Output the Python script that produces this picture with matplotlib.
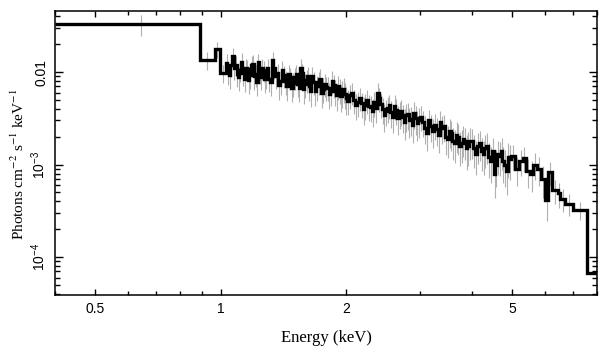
import matplotlib
matplotlib.use('Agg')
import matplotlib.pyplot as plt
import numpy as np
from matplotlib.ticker import FixedLocator, FixedFormatter, NullFormatter

# ---------------- data ----------------
bin_edges_kev = [0.40, 0.89, 0.967, 0.994, 1.028,
    1.037, 1.046, 1.055, 1.064, 1.073, 1.082, 1.091, 1.100, 1.109, 1.118, 1.127, 1.136, 1.145, 1.154, 1.163,
    1.172, 1.181, 1.190, 1.199, 1.208, 1.217, 1.226, 1.235, 1.244, 1.253, 1.262, 1.271, 1.280, 1.290, 1.300,
    1.3125, 1.325, 1.3375, 1.350, 1.3625, 1.375, 1.3875, 1.400, 1.4125, 1.425, 1.4375, 1.450, 1.4625, 1.475,
    1.4875, 1.500, 1.5125, 1.525, 1.5375, 1.550, 1.5625, 1.575, 1.5875, 1.600, 1.6125, 1.625, 1.6375, 1.650,
    1.665, 1.680, 1.695, 1.710, 1.725, 1.740, 1.755, 1.770, 1.785, 1.800, 1.815, 1.830, 1.845, 1.860, 1.875,
    1.890, 1.905, 1.920, 1.935, 1.950, 1.965, 1.980, 1.995, 2.010,
    2.0325, 2.055, 2.0775, 2.100, 2.1225, 2.145, 2.1675, 2.190, 2.2125, 2.235, 2.2575, 2.280, 2.3025, 2.325,
    2.3475, 2.370, 2.3925, 2.415, 2.4375, 2.460, 2.4825, 2.505, 2.5275, 2.550, 2.575, 2.600, 2.625, 2.650,
    2.675, 2.700, 2.725, 2.750, 2.775, 2.800, 2.825, 2.850, 2.875, 2.900, 2.925, 2.950, 2.975, 3.000,
    3.035, 3.07, 3.105, 3.14, 3.175, 3.21, 3.245, 3.28, 3.315, 3.35, 3.385, 3.42, 3.455, 3.49, 3.525, 3.56,
    3.595, 3.63, 3.665, 3.70, 3.735, 3.77, 3.805, 3.84, 3.875, 3.91, 3.945, 3.98,
    4.025, 4.07, 4.115, 4.16, 4.205, 4.25, 4.295, 4.34, 4.385, 4.43, 4.475, 4.52, 4.565, 4.61, 4.655, 4.70,
    4.745, 4.79, 4.835, 4.88, 4.925, 4.97,
    5.08, 5.19, 5.30, 5.41, 5.52, 5.63, 5.74, 5.86, 6.01,
    6.10, 6.25, 6.44, 6.53, 6.72, 7.01, 7.58, 8.0]

flux = [0.033, 0.0135, 0.0177, 0.0098,
    # 1.03 - 1.30 keV
    0.0125, 0.0100, 0.0092, 0.0118, 0.0148, 0.0110, 0.0120, 0.0095, 0.0088, 0.0105,
    0.0130, 0.0098, 0.0085, 0.0112, 0.0108, 0.0082, 0.0092, 0.0118, 0.0122, 0.0090,
    0.0095, 0.0079, 0.0128, 0.0102, 0.0088, 0.0112, 0.0105, 0.0084, 0.0092, 0.0110,
    # 1.30 - 1.65 keV
    0.0085, 0.0078, 0.0135, 0.0112, 0.0090, 0.0098, 0.0072, 0.0080, 0.0105, 0.0092,
    0.0080, 0.0070, 0.0095, 0.0088, 0.0068, 0.0076, 0.0088, 0.0095, 0.0075, 0.0068,
    0.0112, 0.0098, 0.0066, 0.0074, 0.0082, 0.0090, 0.0070, 0.0062,
    # 1.65 - 2.01 keV
    0.0090, 0.0078, 0.0063, 0.0070, 0.0078, 0.0085, 0.0060, 0.0066, 0.0075, 0.0069,
    0.0068, 0.0058, 0.0063, 0.0080, 0.0072, 0.0062, 0.0056, 0.0070, 0.0065, 0.0055,
    0.0060, 0.0066, 0.0058, 0.0052,
    # 2.01 - 3.00 keV
    0.0049, 0.0056, 0.0060, 0.0050, 0.0044, 0.0047, 0.0053, 0.0046, 0.0040, 0.0044,
    0.0050, 0.0043, 0.0042, 0.0038, 0.0047, 0.0041, 0.0060, 0.0052, 0.0045, 0.0040,
    0.0034, 0.0038, 0.0041, 0.0044, 0.0037, 0.0033, 0.0043, 0.0039, 0.0032, 0.0036,
    0.0038, 0.0033, 0.0029, 0.0034, 0.0035, 0.0030, 0.0031, 0.0027, 0.0036, 0.0032,
    0.0028, 0.0030,
    # 3.00 - 3.98 keV
    0.0033, 0.0029, 0.0025, 0.0022, 0.0030, 0.0026, 0.0023, 0.0027, 0.0024, 0.0021,
    0.0029, 0.0025, 0.0026, 0.0020, 0.0019, 0.0023, 0.0022, 0.0018, 0.0017, 0.0021,
    0.0020, 0.0016, 0.0017, 0.0019, 0.0018, 0.0015, 0.0016, 0.0018,
    # 3.98 - 4.97 keV
    0.0018, 0.0015, 0.0013, 0.0016, 0.0017, 0.0014, 0.0013, 0.0015, 0.0016, 0.0012,
    0.0011, 0.0014, 0.00080, 0.0010, 0.0013, 0.00125, 0.00140, 0.00110, 0.00100, 0.00085,
    0.00120, 0.00115,
    # 4.97 - 8 keV
    0.00125, 0.00090, 0.00110, 0.00118, 0.00085, 0.00080, 0.00100, 0.00090, 0.00070,
    0.00041, 0.00083, 0.00053, 0.00049, 0.00043, 0.00038, 0.00032, 0.000067]

flux_err_rel = [0.26, 0.22, 0.20, 0.22,
    0.24, 0.27, 0.28, 0.25, 0.22, 0.26, 0.25, 0.28, 0.29, 0.26,
    0.23, 0.27, 0.29, 0.25, 0.26, 0.29, 0.28, 0.25, 0.24, 0.28,
    0.27, 0.30, 0.24, 0.27, 0.28, 0.25, 0.26, 0.29, 0.28, 0.26,
    0.28, 0.30, 0.21, 0.24, 0.27, 0.26, 0.30, 0.29, 0.25, 0.27,
    0.29, 0.31, 0.26, 0.27, 0.31, 0.29, 0.27, 0.26, 0.29, 0.31,
    0.23, 0.25, 0.31, 0.29, 0.28, 0.26, 0.30, 0.32,
    0.27, 0.28, 0.31, 0.30, 0.28, 0.27, 0.32, 0.30, 0.28, 0.29,
    0.29, 0.32, 0.31, 0.27, 0.28, 0.31, 0.33, 0.29, 0.30, 0.33,
    0.32, 0.30, 0.32, 0.34,
    0.30, 0.28, 0.27, 0.29, 0.31, 0.30, 0.28, 0.30, 0.33, 0.31,
    0.29, 0.31, 0.32, 0.33, 0.30, 0.32, 0.26, 0.28, 0.30, 0.32,
    0.34, 0.32, 0.31, 0.30, 0.32, 0.34, 0.30, 0.32, 0.35, 0.33,
    0.32, 0.34, 0.36, 0.33, 0.33, 0.35, 0.34, 0.37, 0.32, 0.34,
    0.36, 0.35,
    0.30, 0.32, 0.34, 0.36, 0.31, 0.33, 0.35, 0.32, 0.34, 0.36,
    0.31, 0.33, 0.33, 0.37, 0.38, 0.35, 0.36, 0.38, 0.39, 0.36,
    0.37, 0.40, 0.39, 0.37, 0.38, 0.41, 0.40, 0.38,
    0.36, 0.38, 0.40, 0.37, 0.36, 0.39, 0.40, 0.38, 0.37, 0.41,
    0.42, 0.39, 0.45, 0.43, 0.40, 0.40, 0.38, 0.42, 0.43, 0.45,
    0.41, 0.41,
    0.30, 0.35, 0.32, 0.30, 0.35, 0.36, 0.32, 0.34, 0.38,
    0.40, 0.28, 0.30, 0.30, 0.28, 0.26, 0.22, 0.0]

x_major = [0.5, 1, 2, 5]
x_major_labels = ['0.5', '1', '2', '5']
x_minor = [0.4, 0.6, 0.7, 0.8, 0.9, 3, 4, 6, 7, 8]
y_major = [1e-4, 1e-3, 1e-2]
y_major_labels = ['$10^{-4}$', '$10^{-3}$', '0.01']

# ---------------- style ----------------
plt.rcParams['font.family'] = ['Liberation Sans', 'DejaVu Sans']
plt.rcParams['mathtext.fontset'] = 'custom'
plt.rcParams['mathtext.rm'] = 'Liberation Sans'
plt.rcParams['mathtext.it'] = 'Liberation Sans:italic'
plt.rcParams['mathtext.bf'] = 'Liberation Sans:bold'

fig = plt.figure(figsize=(6.09, 3.57), dpi=100)
ax = fig.add_axes([55/609, 1-295/357, (597-55)/609, (295-11)/357])
ax.set_xscale('log')
ax.set_yscale('log')

edges = np.array(bin_edges_kev)
f = np.array(flux)
e = np.array(flux_err_rel) * f
centers = 0.5 * (edges[:-1] + edges[1:])

ax.errorbar(centers, f, yerr=[e, e], fmt='none', ecolor='#b0b0b0', elinewidth=0.8, capsize=0, zorder=1)
ax.stairs(f, edges, baseline=None, color='black', linewidth=2.4, zorder=2)

ax.set_xlim(0.4, 8.0)
ax.set_ylim(3.9e-5, 0.0457)

ax.xaxis.set_major_locator(FixedLocator(x_major))
ax.xaxis.set_major_formatter(FixedFormatter(x_major_labels))
ax.xaxis.set_minor_locator(FixedLocator(x_minor))
ax.xaxis.set_minor_formatter(NullFormatter())

y_minor = [m * 10.0**p for p in (-5, -4, -3, -2) for m in range(2, 10)]
ax.yaxis.set_major_locator(FixedLocator(y_major))
ax.yaxis.set_major_formatter(FixedFormatter(y_major_labels))
ax.yaxis.set_minor_locator(FixedLocator(y_minor))
ax.yaxis.set_minor_formatter(NullFormatter())

for s in ax.spines.values():
    s.set_linewidth(1.1)

ax.tick_params(which='both', direction='in', top=True, right=True, width=1.0, labelsize=10)
ax.tick_params(axis='x', which='major', length=4.5, pad=5)
ax.tick_params(axis='x', which='minor', length=2.6)
ax.tick_params(axis='y', which='major', length=5.5, pad=5)
ax.tick_params(axis='y', which='minor', length=3.5)
for lab in ax.get_yticklabels():
    lab.set_rotation(90)
    lab.set_va('center')

ax.set_xlabel('Energy (keV)', fontfamily='Liberation Serif', fontsize=12, labelpad=10)
ax.set_ylabel('Photons cm$^{-2}$ s$^{-1}$ keV$^{-1}$', fontfamily='Liberation Serif',
              math_fontfamily='stix', fontsize=11, labelpad=2)
ax.yaxis.set_label_coords(-0.052, 0.46)

fig.savefig('out.png', dpi=100)
